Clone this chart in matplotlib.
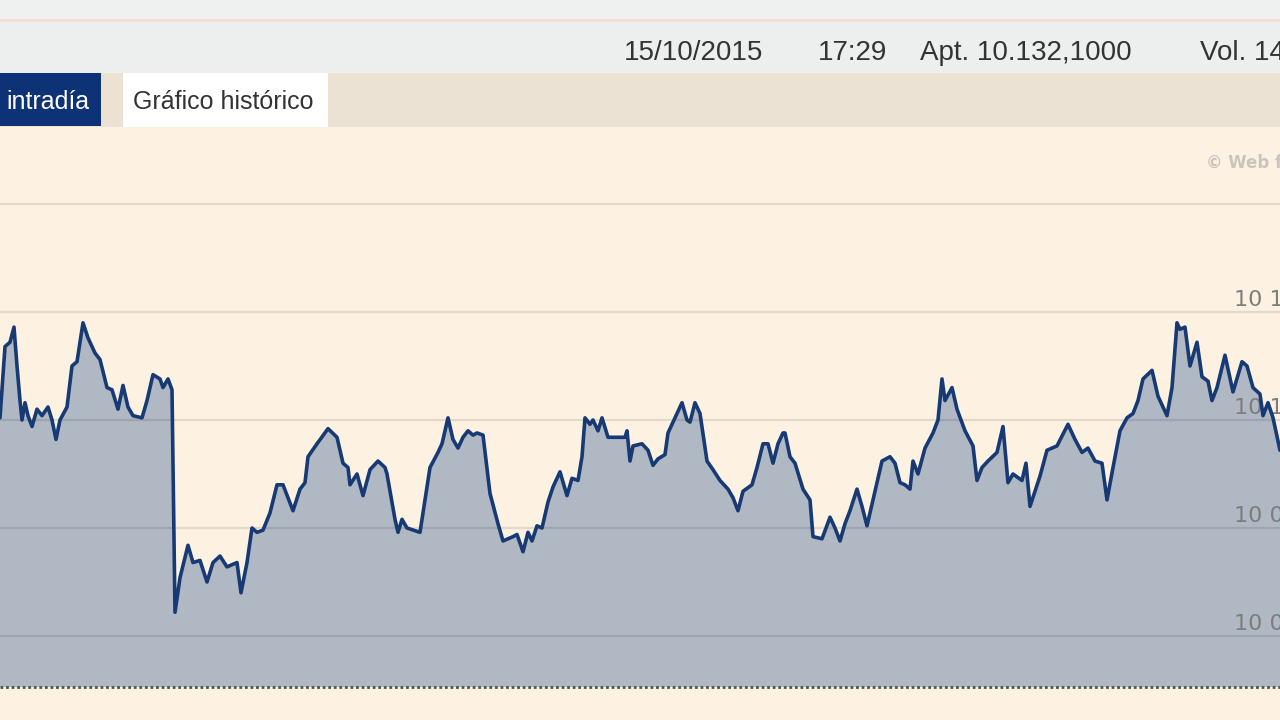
import matplotlib
matplotlib.use("Agg")
import matplotlib.pyplot as plt
from matplotlib.patches import Rectangle

# ---- data (intraday position across the visible session, index price) ----
pos = [0, 5, 10, 14, 17, 20, 22, 25, 28, 32, 37, 42, 48, 52, 56, 60, 67, 72, 77, 83,
       88, 95, 100, 107, 112, 118, 123, 128, 133, 142, 147, 153, 160, 163, 168, 172,
       175, 180, 188, 193, 200, 207, 213, 220, 227, 237, 241, 247, 252, 257, 263, 270,
       277, 283, 293, 300, 305, 308, 317, 328, 337, 343, 348, 350, 357, 363, 370, 378,
       385, 387, 395, 398, 402, 407, 420, 425, 430, 438, 442, 448, 453, 458, 463, 468,
       473, 477, 483, 490, 498, 503, 513, 517, 523, 528, 532, 537, 542, 548, 553, 560,
       567, 572, 578, 582, 585, 590, 593, 598, 602, 608, 617, 625, 627, 630, 633, 642,
       648, 653, 658, 665, 668, 675, 682, 687, 690, 695, 700, 707, 713, 720, 728, 733,
       738, 743, 752, 757, 763, 768, 773, 778, 783, 785, 790, 795, 803, 810, 813, 822,
       830, 835, 840, 845, 850, 857, 862, 867, 873, 882, 890, 895, 900, 905, 910, 913,
       918, 925, 933, 938, 942, 945, 952, 957, 965, 973, 977, 982, 988, 997, 1003, 1008,
       1013, 1022, 1026, 1030, 1040, 1047, 1057, 1068, 1075, 1082, 1088, 1095, 1102,
       1107, 1113, 1120, 1127, 1133, 1138, 1143, 1152, 1158, 1167, 1172, 1177, 1180,
       1185, 1190, 1197, 1202, 1208, 1212, 1217, 1225, 1233, 1242, 1247, 1253, 1260,
       1263, 1268, 1273, 1280]
price = [10101, 10134, 10136, 10143, 10125, 10109, 10100, 10108, 10102, 10097, 10105,
         10102, 10106, 10100, 10091, 10100, 10106, 10125, 10127, 10145, 10138, 10131,
         10128, 10115, 10114, 10105, 10116, 10106, 10102, 10101, 10109, 10121, 10119,
         10115, 10119, 10114, 10011, 10027, 10042, 10034, 10035, 10025, 10034, 10037,
         10032, 10034, 10020, 10034, 10050, 10048, 10049, 10057, 10070, 10070, 10058,
         10068, 10071, 10083, 10089, 10096, 10092, 10080, 10078, 10070, 10075, 10065,
         10077, 10081, 10078, 10075, 10054, 10048, 10054, 10050, 10048, 10063, 10078,
         10085, 10089, 10101, 10091, 10087, 10092, 10095, 10093, 10094, 10093, 10066,
         10052, 10044, 10046, 10047, 10039, 10048, 10044, 10051, 10050, 10062, 10069,
         10076, 10065, 10073, 10072, 10083, 10101, 10098, 10100, 10095, 10101, 10092,
         10092, 10092, 10095, 10081, 10088, 10089, 10086, 10079, 10082, 10084, 10094,
         10101, 10108, 10100, 10099, 10108, 10103, 10081, 10077, 10072, 10068, 10064,
         10058, 10067, 10070, 10078, 10089, 10089, 10080, 10089, 10094, 10094, 10083,
         10080, 10068, 10063, 10046, 10045, 10055, 10050, 10044, 10052, 10058, 10068,
         10060, 10051, 10063, 10081, 10083, 10080, 10071, 10070, 10068, 10081, 10075,
         10087, 10094, 10100, 10119, 10109, 10115, 10105, 10095, 10088, 10072, 10078,
         10081, 10085, 10097, 10071, 10075, 10072, 10080, 10060, 10074, 10086, 10088,
         10098, 10091, 10085, 10087, 10081, 10080, 10063, 10078, 10095, 10101, 10103,
         10109, 10119, 10123, 10111, 10102, 10115, 10145, 10142, 10143, 10125, 10136,
         10120, 10118, 10109, 10115, 10130, 10113, 10127, 10125, 10115, 10112, 10102,
         10108, 10101, 10086]

grid_levels = [10000, 10050, 10100, 10150, 10200]
grid_labels = ["10 000", "10 050", "10 100", "10 150", ""]

header_date = "15/10/2015"
header_time = "17:29"
header_open = "Apt. 10.132,1000"
header_vol = "Vol. 147.512.300"
tab_active = "intradía"
tab_other = "Gráfico histórico"
watermark = "© Web financial"

# ---- figure ----
W, H = 1280, 720
BEIGE = "#fdf2e2"
fig = plt.figure(figsize=(12.8, 7.2), dpi=100, facecolor=BEIGE)

ui = fig.add_axes([0, 0, 1, 1], zorder=0)
ui.set_xlim(0, W)
ui.set_ylim(H, 0)
ui.axis("off")
ui.add_patch(Rectangle((0, 0), W, 19, color="#eff1f1", lw=0))
ui.add_patch(Rectangle((0, 19), W, 3, color="#f1dfd8", lw=0))
ui.add_patch(Rectangle((0, 22), W, 51, color="#edefef", lw=0))
ui.add_patch(Rectangle((0, 73), W, 54, color="#ece2d4", lw=0))
ui.add_patch(Rectangle((0, 73), 101, 53, color="#0d3275", lw=0))
ui.add_patch(Rectangle((123, 73), 205, 54, color="#ffffff", lw=0))

hfont = dict(family=["Liberation Sans", "DejaVu Sans"], color="#333333")
ui.text(6, 109, tab_active, ha="left", va="baseline", fontsize=18,
        family=["Liberation Sans", "DejaVu Sans"], color="white")
ui.text(133, 109, tab_other, ha="left", va="baseline", fontsize=18, **hfont)
ui.text(624, 60, header_date, ha="left", va="baseline", fontsize=20, **hfont)
ui.text(818, 60, header_time, ha="left", va="baseline", fontsize=20, **hfont)
ui.text(920, 60, header_open, ha="left", va="baseline", fontsize=20, **hfont)
ui.text(1200, 60, header_vol, ha="left", va="baseline", fontsize=20, **hfont)
ui.text(1206, 168, watermark, ha="left", va="baseline", fontsize=12,
        fontweight="bold", color="#c9c5be", family="DejaVu Sans")

# chart axes: top at y=127 px, bottom (dotted line) at y=687 px
top_px, bot_px = 127, 687
px_per_unit = 108 / 50.0
ymin = 10100 - (bot_px - 420) / px_per_unit
ymax = 10100 + (420 - top_px) / px_per_unit

ax = fig.add_axes([0, (H - bot_px) / H, 1, (bot_px - top_px) / H], zorder=1)
ax.set_facecolor("none")
ax.set_xlim(0, 1280)
ax.set_ylim(ymin, ymax)
for s in ax.spines.values():
    s.set_visible(False)
ax.set_xticks([])
ax.set_yticks([])

ax.fill_between(pos, price, ymin, color="#b0b8c4", lw=0, zorder=1)
for g, lab in zip(grid_levels, grid_labels):
    ax.axhline(g, color="black", alpha=0.1, lw=1.6, zorder=2)
    if lab:
        ax.text(1234, g + 6 / px_per_unit, lab, ha="left", va="baseline",
                fontsize=16, color="#7d7d7d", family="DejaVu Sans", zorder=3)
ax.plot(pos, price, color="#173a74", lw=2.6, zorder=4,
        solid_joinstyle="round", solid_capstyle="round")
ax.axhline(ymin, color="#4d554d", lw=2, linestyle=(0, (1, 1)), clip_on=False, zorder=5)

fig.savefig("out.png", dpi=100, facecolor=BEIGE)
